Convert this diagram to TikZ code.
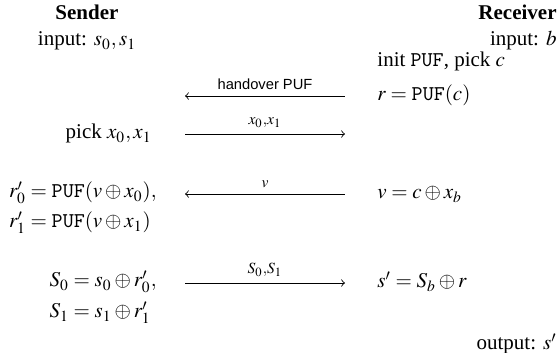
\documentclass[tikz,border=0pt]{standalone}
\usepackage{amsmath}
\usepackage{mathptmx}
\usepackage[no-math]{fontspec}
\setmainfont{Liberation Serif}
\setsansfont{Liberation Sans}
\newcommand{\puf}{\mathtt{PUF}}
\tikzset{
  txt/.style={inner sep=0pt},
  msg/.style={above=3pt, inner sep=0pt},
}
\begin{document}
\begin{tikzpicture}[x=0.476pt,y=-0.476pt]
  \useasboundingbox (0,0) rectangle (559,352);
  % the two parties
  \node[txt,anchor=mid,font=\bfseries] (snd) at (87,15) {Sender};
  \node[txt,anchor=mid] (sndin) at (87,41) {input: $s_0,s_1$};
  \node[txt,anchor=mid east,font=\bfseries] (rcv) at (557,15) {Receiver};
  \node[txt,anchor=mid east] (rcvin) at (557,41) {input: $b$};
  % receiver side
  \node[txt,anchor=mid west] (init) at (377,62) {init $\puf$, pick $c$};
  \node[txt,anchor=mid west] (resp) at (377,96) {$r = \puf(c)$};
  \node[txt,anchor=mid west] (vsel) at (377,194) {$v = c \oplus x_b$};
  \node[txt,anchor=mid west] (sout) at (377,283) {$s' = S_b \oplus r$};
  \node[txt,anchor=mid east] (rcvout) at (557,345) {output: $s'$};
  % sender side
  \node[txt,anchor=mid east] (pick) at (152,134) {pick $x_0,x_1$};
  \node[txt,anchor=mid east] (r0) at (157,193) {$r'_0 = \puf(v \oplus x_0),$};
  \node[txt,anchor=mid east] (r1) at (157,223) {$r'_1 = \puf(v \oplus x_1)\phantom{,}$};
  \node[txt,anchor=mid east] (S0) at (157,282) {$S_0 = s_0 \oplus r'_0,$};
  \node[txt,anchor=mid east] (S1) at (157,313) {$S_1 = s_1 \oplus r'_1\phantom{,}$};
  % messages
  \coordinate (m1l) at (185,96);  \coordinate (m1r) at (345,96);
  \coordinate (m2l) at (185,134); \coordinate (m2r) at (345,134);
  \coordinate (m3l) at (185,194); \coordinate (m3r) at (345,194);
  \coordinate (m4l) at (185,283); \coordinate (m4r) at (345,283);
  \draw[<-] (m1l) -- (m1r) node[msg,midway,font=\scriptsize\sffamily] (hand) {handover PUF};
  \draw[->] (m2l) -- (m2r) node[msg,midway] (xs) {$\scriptstyle x_0,x_1$};
  \draw[<-] (m3l) -- (m3r) node[msg,midway] (vm) {$\scriptstyle v$};
  \draw[->] (m4l) -- (m4r) node[msg,midway] (Ss) {$\scriptstyle S_0,S_1$};
\end{tikzpicture}
\end{document}
